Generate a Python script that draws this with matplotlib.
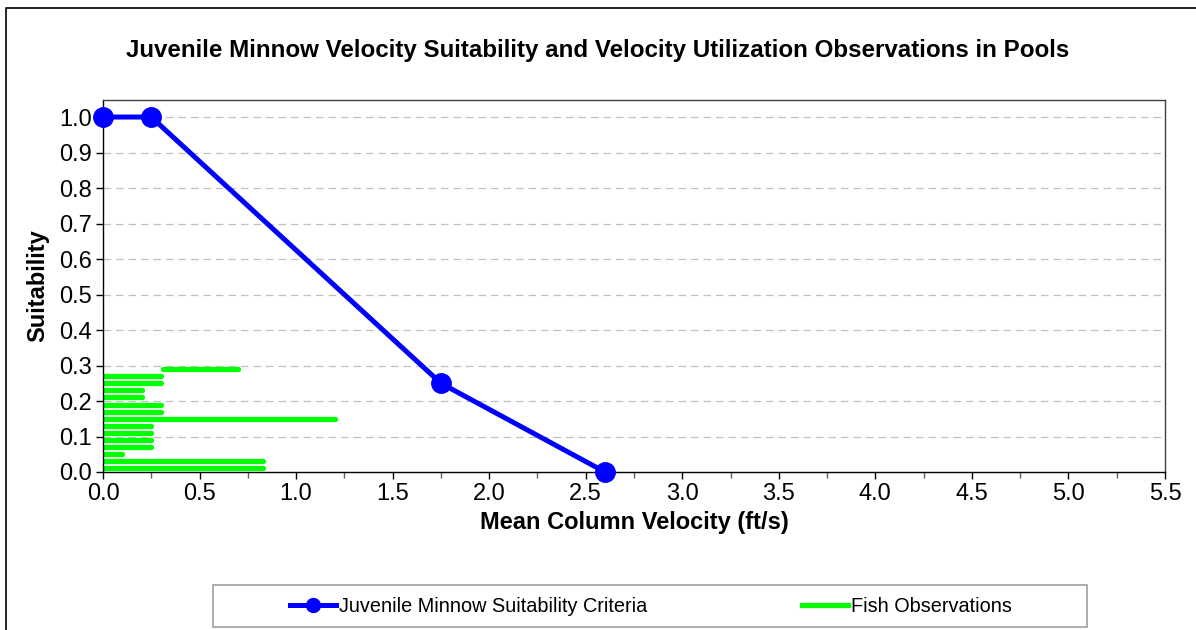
import matplotlib
matplotlib.use("Agg")
import matplotlib.pyplot as plt
from matplotlib.lines import Line2D
from matplotlib.patches import Rectangle

plt.rcParams['font.family'] = ['Liberation Sans', 'DejaVu Sans']

# suitability criteria (velocity ft/s, suitability)
crit_vel = [0.0, 0.25, 1.75, 2.6]
crit_suit = [1.0, 1.0, 0.25, 0.0]

# fish observations: horizontal segments (height, start velocity, end velocity)
obs_y = [0.29, 0.27, 0.25, 0.23, 0.21, 0.19, 0.17, 0.15, 0.13, 0.11, 0.09, 0.07, 0.05, 0.03, 0.01]
obs_start = [0.31, 0.0, 0.0, 0.0, 0.0, 0.0, 0.0, 0.0, 0.0, 0.0, 0.0, 0.0, 0.0, 0.0, 0.0]
obs_end = [0.70, 0.30, 0.30, 0.20, 0.20, 0.30, 0.30, 1.20, 0.25, 0.25, 0.25, 0.25, 0.10, 0.83, 0.83]

x_ticks = [i * 0.5 for i in range(12)]
y_ticks = [i * 0.1 for i in range(11)]

W, H = 1196, 630
fig = plt.figure(figsize=(W / 100, H / 100), dpi=100)
ax = fig.add_axes([103 / W, 1 - 472 / H, (1165 - 103) / W, (472 - 100) / H])

# outer chart frame (left and top edges visible)
fig.add_artist(Line2D([6 / W, 6 / W, 1.0], [0.0, 1 - 8 / H, 1 - 8 / H],
                      transform=fig.transFigure, color='black', lw=1.2))

for y in y_ticks[1:]:
    ax.axhline(y, color='#c0c0c0', lw=0.9, ls=(0, (6, 4)), zorder=0)

for y, x0, x1 in zip(obs_y, obs_start, obs_end):
    ax.plot([x0, x1], [y, y], color='#00ff00', lw=3.8, solid_capstyle='round', zorder=2)

ax.plot(crit_vel, crit_suit, color='#0000ff', lw=3.6, marker='o', markersize=14,
        zorder=3, clip_on=False)

ax.set_xlim(0, 5.5)
ax.set_ylim(0, 1.048)
ax.set_xticks(x_ticks)
ax.set_xticklabels(['%.1f' % v for v in x_ticks])
ax.set_yticks(y_ticks)
ax.set_yticklabels(['%.1f' % v for v in y_ticks])
ax.set_xticks([i * 0.5 + 0.25 for i in range(11)], minor=True)
ax.tick_params(axis='both', which='major', direction='out', length=5, width=1, labelsize=17)
ax.tick_params(axis='y', which='major', pad=3)
ax.tick_params(axis='x', which='major', pad=3)
ax.tick_params(axis='x', which='minor', direction='out', length=4, width=1, color='#606060')
for s in ax.spines.values():
    s.set_linewidth(1)
ax.spines['top'].set_color('#404040')
ax.spines['right'].set_color('#404040')

ax.set_xlabel('Mean Column Velocity (ft/s)', fontsize=17, fontweight='bold', labelpad=4)
ax.set_ylabel('Suitability', fontsize=17, fontweight='bold', labelpad=7)
fig.text(0.5, 1 - 50 / H, 'Juvenile Minnow Velocity Suitability and Velocity Utilization Observations in Pools',
         ha='center', va='center', fontsize=17.4, fontweight='bold')

# legend box
fig.add_artist(Rectangle((213 / W, 1 - 627 / H), (1087 - 213) / W, (627 - 585) / H,
                         transform=fig.transFigure, fill=False, edgecolor='#a0a0a0', lw=1.2))
handles = [Line2D([], [], color='#0000ff', lw=3.6, marker='o', markersize=10),
           Line2D([], [], color='#00ff00', lw=3.8)]
leg = fig.legend(handles, ['Juvenile Minnow Suitability Criteria', 'Fish Observations'],
                 ncol=2, loc='center', bbox_to_anchor=(651 / W, 1 - 606 / H),
                 frameon=False, fontsize=14.3,
                 handlelength=2.3, handletextpad=0.15, columnspacing=7.8, borderpad=0.3)

fig.savefig('out.png', dpi=100)
